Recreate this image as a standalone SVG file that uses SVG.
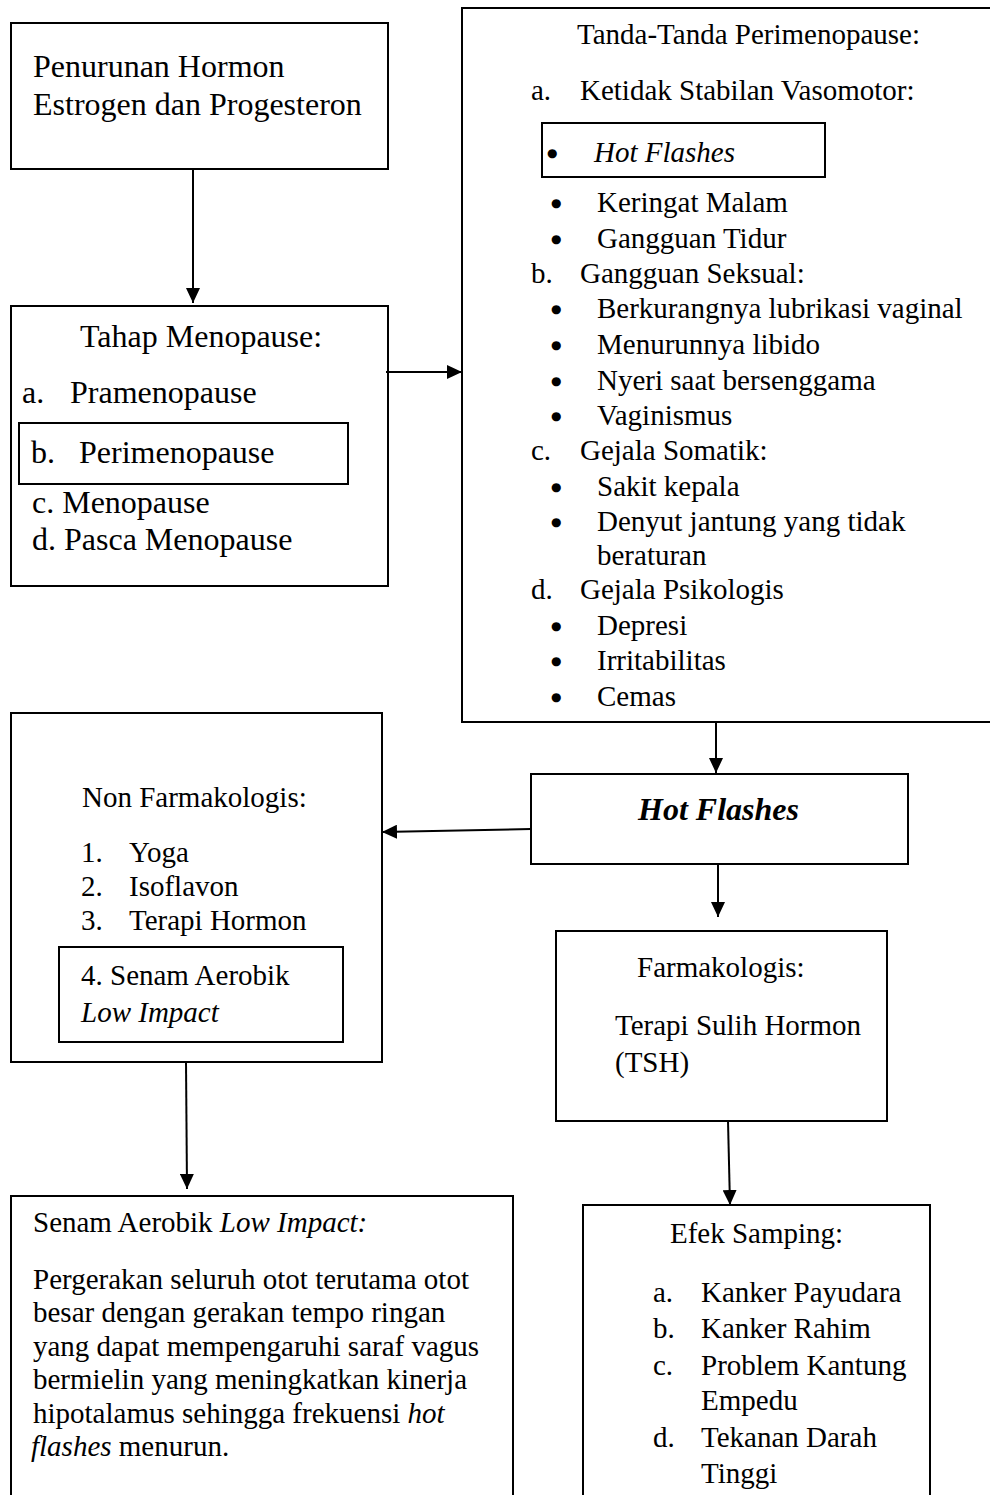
<svg xmlns="http://www.w3.org/2000/svg" width="990" height="1495" viewBox="0 0 990 1495">
<style>
  .box { fill: #fff; stroke: #000; stroke-width: 2; }
  .ibox { fill: none; stroke: #000; stroke-width: 2; }
  .t { font-family: "Liberation Serif", "Times New Roman", serif; fill: #000; }
  .s29 { font-size: 29px; }
  .s32 { font-size: 32px; }
  .it { font-style: italic; }
  .b { font-family: "DejaVu Sans", sans-serif; font-size: 12px; fill: #000; }
  .con { stroke: #000; stroke-width: 2; fill: none; marker-end: url(#arr); }
</style>
<defs>
  <marker id="arr" markerUnits="userSpaceOnUse" markerWidth="15" markerHeight="14" refX="15" refY="7" orient="auto">
    <path d="M0,0 L15,7 L0,14 z" fill="#000"/>
  </marker>
</defs>
<rect width="990" height="1495" fill="#fff"/>

<g id="penurunan">
  <rect class="box" x="11" y="23" width="377" height="146"/>
  <text class="t s32" x="33" y="77">Penurunan Hormon</text>
  <text class="t s32" x="33" y="115">Estrogen dan Progesteron</text>
</g>

<g id="tahap">
  <rect class="box" x="11" y="306" width="377" height="280"/>
  <text class="t s32" x="80" y="347">Tahap Menopause:</text>
  <text class="t s32" x="22" y="403">a.</text>
  <text class="t s32" x="70" y="403">Pramenopause</text>
  <rect class="ibox" x="19" y="423" width="329" height="61"/>
  <text class="t s32" x="31" y="463">b.</text>
  <text class="t s32" x="79" y="463">Perimenopause</text>
  <text class="t s32" x="32" y="513">c. Menopause</text>
  <text class="t s32" x="32" y="550">d. Pasca Menopause</text>
</g>

<g id="tanda">
  <rect class="box" x="462" y="8" width="540" height="714"/>
  <text class="t s29" x="577" y="44">Tanda-Tanda Perimenopause:</text>
  <text class="t s29" x="531" y="100">a.</text>
  <text class="t s29" x="580" y="100">Ketidak Stabilan Vasomotor:</text>
  <rect class="ibox" x="542" y="123" width="283" height="54"/>
  <text class="b" x="547" y="157">●</text>
  <text class="t s29 it" x="594" y="162">Hot Flashes</text>
  <text class="b" x="551" y="207">●</text>
  <text class="t s29" x="597" y="212">Keringat Malam</text>
  <text class="b" x="551" y="243">●</text>
  <text class="t s29" x="597" y="248">Gangguan Tidur</text>
  <text class="t s29" x="531" y="283">b.</text>
  <text class="t s29" x="580" y="283">Gangguan Seksual:</text>
  <text class="b" x="551" y="313">●</text>
  <text class="t s29" x="597" y="318">Berkurangnya lubrikasi vaginal</text>
  <text class="b" x="551" y="349">●</text>
  <text class="t s29" x="597" y="354">Menurunnya libido</text>
  <text class="b" x="551" y="385">●</text>
  <text class="t s29" x="597" y="390">Nyeri saat bersenggama</text>
  <text class="b" x="551" y="420">●</text>
  <text class="t s29" x="597" y="425">Vaginismus</text>
  <text class="t s29" x="531" y="460">c.</text>
  <text class="t s29" x="580" y="460">Gejala Somatik:</text>
  <text class="b" x="551" y="491">●</text>
  <text class="t s29" x="597" y="496">Sakit kepala</text>
  <text class="b" x="551" y="526">●</text>
  <text class="t s29" x="597" y="531">Denyut jantung yang tidak</text>
  <text class="t s29" x="597" y="565">beraturan</text>
  <text class="t s29" x="531" y="599">d.</text>
  <text class="t s29" x="580" y="599">Gejala Psikologis</text>
  <text class="b" x="551" y="630">●</text>
  <text class="t s29" x="597" y="635">Depresi</text>
  <text class="b" x="551" y="665">●</text>
  <text class="t s29" x="597" y="670">Irritabilitas</text>
  <text class="b" x="551" y="701">●</text>
  <text class="t s29" x="597" y="706">Cemas</text>
</g>

<g id="hotflashes">
  <rect class="box" x="531" y="774" width="377" height="90"/>
  <text class="t s32" x="638" y="820" font-weight="bold" font-style="italic">Hot Flashes</text>
</g>

<g id="nonfarmakologis">
  <rect class="box" x="11" y="713" width="371" height="349"/>
  <text class="t s29" x="82" y="807">Non Farmakologis:</text>
  <text class="t s29" x="81" y="862">1.</text>
  <text class="t s29" x="129" y="862">Yoga</text>
  <text class="t s29" x="81" y="896">2.</text>
  <text class="t s29" x="129" y="896">Isoflavon</text>
  <text class="t s29" x="81" y="930">3.</text>
  <text class="t s29" x="129" y="930">Terapi Hormon</text>
  <rect class="ibox" x="59" y="947" width="284" height="95"/>
  <text class="t s29" x="81" y="985">4. Senam Aerobik</text>
  <text class="t s29 it" x="81" y="1022">Low Impact</text>
</g>

<g id="farmakologis">
  <rect class="box" x="556" y="931" width="331" height="190"/>
  <text class="t s29" x="637" y="977">Farmakologis:</text>
  <text class="t s29" x="615" y="1035">Terapi Sulih Hormon</text>
  <text class="t s29" x="615" y="1072">(TSH)</text>
</g>

<g id="senam">
  <rect class="box" x="11" y="1196" width="502" height="310"/>
  <text class="t s29" x="33" y="1232">Senam Aerobik <tspan class="it">Low Impact:</tspan></text>
  <text class="t s29" x="33" y="1289">Pergerakan seluruh otot terutama otot</text>
  <text class="t s29" x="33" y="1322">besar dengan gerakan tempo ringan</text>
  <text class="t s29" x="33" y="1356">yang dapat mempengaruhi saraf vagus</text>
  <text class="t s29" x="33" y="1389">bermielin yang meningkatkan kinerja</text>
  <text class="t s29" x="33" y="1423">hipotalamus sehingga frekuensi <tspan class="it">hot</tspan></text>
  <text class="t s29" x="31" y="1456"><tspan class="it">flashes</tspan> menurun.</text>
</g>

<g id="efek">
  <rect class="box" x="583" y="1205" width="347" height="310"/>
  <text class="t s29" x="670" y="1243">Efek Samping:</text>
  <text class="t s29" x="653" y="1302">a.</text>
  <text class="t s29" x="701" y="1302">Kanker Payudara</text>
  <text class="t s29" x="653" y="1338">b.</text>
  <text class="t s29" x="701" y="1338">Kanker Rahim</text>
  <text class="t s29" x="653" y="1375">c.</text>
  <text class="t s29" x="701" y="1375">Problem Kantung</text>
  <text class="t s29" x="701" y="1410">Empedu</text>
  <text class="t s29" x="653" y="1447">d.</text>
  <text class="t s29" x="701" y="1447">Tekanan Darah</text>
  <text class="t s29" x="701" y="1483">Tinggi</text>
</g>

<g id="connectors">
  <line class="con" x1="193" y1="169" x2="193" y2="303"/>
  <line class="con" x1="386" y1="372" x2="462" y2="372"/>
  <line class="con" x1="716" y1="722" x2="716" y2="773"/>
  <line class="con" x1="531" y1="829" x2="382" y2="832"/>
  <line class="con" x1="718" y1="864" x2="718" y2="917"/>
  <line class="con" x1="186" y1="1062" x2="187" y2="1189"/>
  <line class="con" x1="728" y1="1121" x2="730" y2="1205"/>
</g>
</svg>
